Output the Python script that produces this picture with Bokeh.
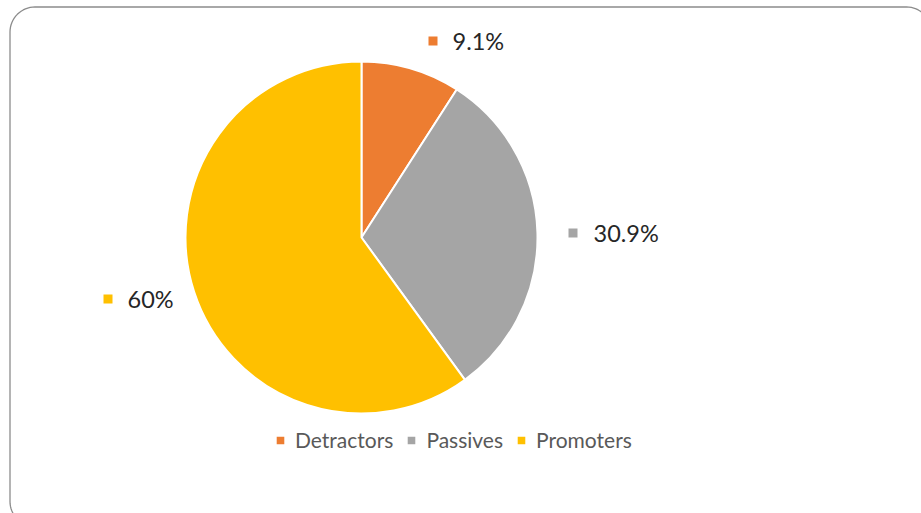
import math
from bokeh.plotting import figure
from bokeh.models import Range1d, Legend, LegendItem, ColumnDataSource
from bokeh.core.properties import value
from bokeh.embed import file_html
from bokeh.resources import INLINE

# ---- data ----
categories = ["Detractors", "Passives", "Promoters"]
shares = [9.1, 30.9, 60.0]
label_texts = ["9.1%", "30.9%", "60%"]
colors = ["#ED7D31", "#A5A5A5", "#FFC000"]

# ---- layout (pixels) ----
W, H = 921, 513
CX, CY, R = 361, H - 237, 176
# data-label marker centres and text starts (screen px, y from top)
label_marker_px = [(432.5, 40.5), (572.5, 232.5), (107.5, 298.5)]
label_text_px = [(452, 40), (593, 232), (127, 298)]

total = sum(shares)
starts, ends = [], []
acc = 0.0
for s in shares:
    starts.append(math.pi / 2 - 2 * math.pi * acc / total)
    acc += s
    ends.append(math.pi / 2 - 2 * math.pi * acc / total)

src = ColumnDataSource(dict(cat=categories, start=starts, end=ends, color=colors))

p = figure(width=W, height=H, x_range=Range1d(0, W), y_range=Range1d(0, H),
           output_backend="svg", toolbar_location=None, min_border=0)
p.axis.visible = False
p.grid.visible = False
p.outline_line_color = None
p.background_fill_color = "white"
p.border_fill_color = "white"

# rounded chart-area border (extends past window right/bottom)
def rounded_rect(x0, y0, x1, y1, r, n=16):
    xs, ys = [], []
    corners = [(x1 - r, y1 - r, 0), (x0 + r, y1 - r, 90), (x0 + r, y0 + r, 180), (x1 - r, y0 + r, 270)]
    for ccx, ccy, a0 in corners:
        for k in range(n + 1):
            a = math.radians(a0 + 90 * k / n)
            xs.append(ccx + r * math.cos(a))
            ys.append(ccy + r * math.sin(a))
    return xs, ys

bx, by = rounded_rect(9.5, H - 526, 931, H - 6.5, 25)
p.patch(bx, by, fill_color=None, line_color="#8C8C8C", line_width=1.3)

r = p.wedge(x=CX, y=CY, radius=R, start_angle="start", end_angle="end",
            direction="clock", fill_color="color", line_color="white",
            line_width=2, source=src)

# data labels
mx = [m[0] for m in label_marker_px]
my = [H - m[1] for m in label_marker_px]
p.scatter(mx, my, marker="square", size=9, fill_color=colors, line_color=None)
tx = [t[0] for t in label_text_px]
ty = [H - t[1] for t in label_text_px]
p.text(tx, ty, text=label_texts, text_font=value("Lato"), text_font_size="23.5px",
       text_color="#262626", text_baseline="middle", text_align="left")

legend = Legend(items=[LegendItem(label=c, renderers=[r], index=i) for i, c in enumerate(categories)],
                orientation="horizontal", location=(274, 61))
legend.border_line_color = None
legend.background_fill_alpha = 0
legend.padding = 0
legend.margin = 0
legend.spacing = 12
legend.label_standoff = 9
legend.glyph_width = 12
legend.glyph_height = 12
legend.label_text_font = "Lato"
legend.label_text_font_size = "21px"
legend.label_text_color = "#595959"
p.add_layout(legend, "center")

open("out.html", "w").write(file_html(p, INLINE))
